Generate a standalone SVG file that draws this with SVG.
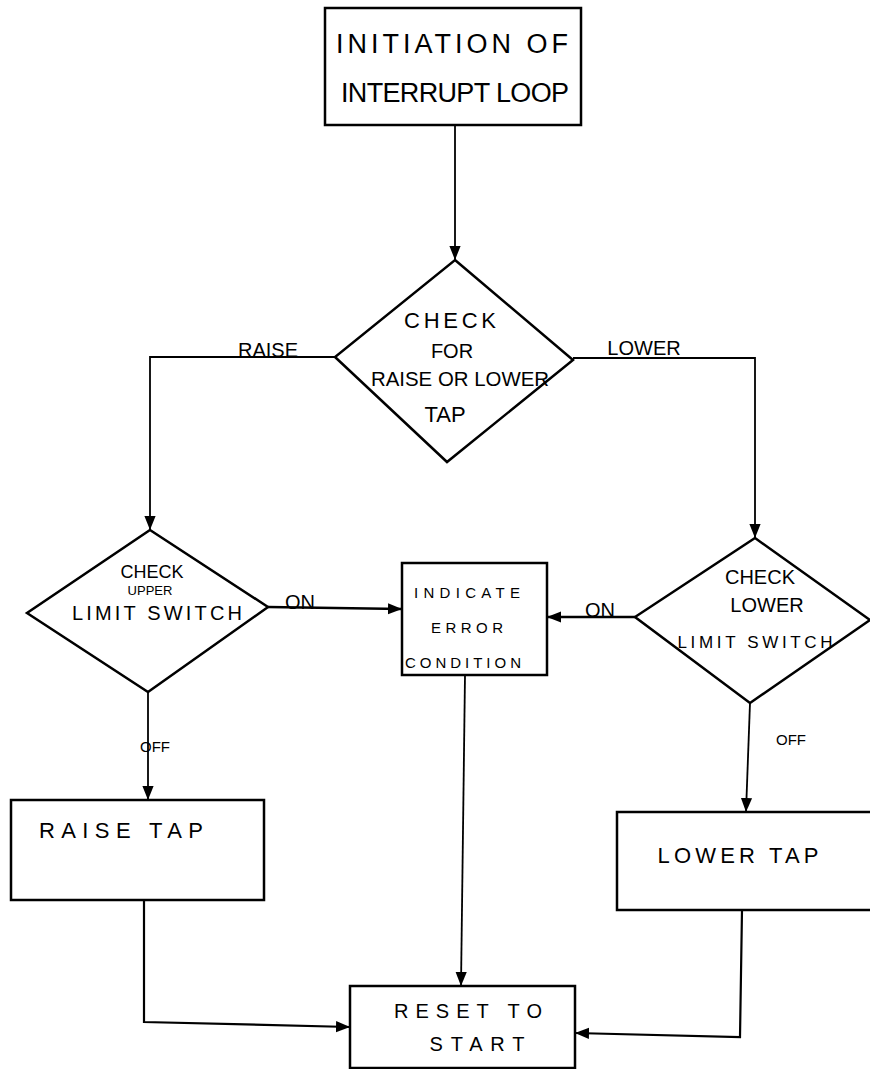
<svg xmlns="http://www.w3.org/2000/svg" width="870" height="1069" viewBox="0 0 870 1069">
<style>
.n{fill:#fff;stroke:#000;stroke-width:2.5}
.c{fill:none;stroke:#000;stroke-width:1.8}
text{font-family:"Liberation Sans",Arial,sans-serif;fill:#000;text-anchor:middle}
.t{font-size:27px}
.m{font-size:20px}
.l{font-size:22px}
.s{font-size:15px}
</style>
<defs>
<marker id="b" viewBox="0 0 10 10" refX="10" refY="5" markerWidth="14" markerHeight="14" markerUnits="userSpaceOnUse" orient="auto"><path d="M0,1 L10,5 L0,9 z" fill="#000"/></marker>
</defs>
<g id="connectors">
<path class="c" d="M455,125 L455,260" marker-end="url(#b)"/>
<path class="c" d="M335,357 L150,357 L150,530" marker-end="url(#b)"/>
<path class="c" d="M573,358 L755,358 L755,538" marker-end="url(#b)"/>
<path class="c" d="M268,607 L402,609" marker-end="url(#b)" style="stroke-width:2.5"/>
<path class="c" d="M635,617 L547,617" marker-end="url(#b)" style="stroke-width:2.5"/>
<path class="c" d="M148,692 L148,800" marker-end="url(#b)"/>
<path class="c" d="M750,703 L746,812" marker-end="url(#b)"/>
<path class="c" d="M465,675 L461,986" marker-end="url(#b)"/>
<path class="c" d="M144,900 L144,1022 L350,1027" marker-end="url(#b)" style="stroke-width:2.2"/>
<path class="c" d="M742,910 L740,1037 L575,1033" marker-end="url(#b)" style="stroke-width:2.2"/>
<text class="m" x="268" y="357">RAISE</text>
<text class="m" x="644" y="355">LOWER</text>
<text class="m" x="300" y="609">ON</text>
<text class="m" x="600" y="617">ON</text>
<text class="s" x="155" y="752">OFF</text>
<text class="s" x="791" y="745">OFF</text>
</g>
<g id="n1">
<rect class="n" x="325" y="8" width="256" height="117"/>
<text class="t" x="452" y="53" textLength="232">INITIATION OF</text>
<text class="t" x="455" y="102" textLength="228">INTERRUPT LOOP</text>
</g>
<g id="n2">
<path class="n" d="M455,260 L573,360 L447,462 L335,357 z"/>
<text class="l" x="450" y="328" textLength="92">CHECK</text>
<text class="m" x="452" y="358">FOR</text>
<text class="m" x="460" y="386" textLength="178" lengthAdjust="spacingAndGlyphs">RAISE OR LOWER</text>
<text class="l" x="445" y="422">TAP</text>
</g>
<g id="n3">
<path class="n" d="M150,530 L268,607 L148,692 L27,613 z"/>
<text class="m" x="152" y="578" style="font-size:18px">CHECK</text>
<text class="s" x="150" y="595" style="font-size:13px">UPPER</text>
<text class="m" x="157" y="620" textLength="170">LIMIT SWITCH</text>
</g>
<g id="n4">
<rect class="n" x="402" y="563" width="145" height="112"/>
<text class="s" x="467" y="598" textLength="106">INDICATE</text>
<text class="s" x="467" y="633" textLength="72">ERROR</text>
<text class="s" x="463" y="668" textLength="116">CONDITION</text>
</g>
<g id="n5">
<path class="n" d="M755,538 L870,620 L750,703 L635,617 z"/>
<text class="m" x="760" y="584">CHECK</text>
<text class="m" x="767" y="612">LOWER</text>
<text class="m" x="755" y="648" textLength="155" style="font-size:17px">LIMIT SWITCH</text>
</g>
<g id="n6">
<rect class="n" x="11" y="800" width="253" height="100"/>
<text class="l" x="121" y="838" textLength="164">RAISE TAP</text>
</g>
<g id="n7">
<rect class="n" x="617" y="812" width="260" height="98"/>
<text class="l" x="738" y="863" textLength="161">LOWER TAP</text>
</g>
<g id="n8">
<rect class="n" x="350" y="986" width="225" height="82"/>
<text class="m" x="468" y="1018" textLength="148">RESET TO</text>
<text class="m" x="477" y="1051" textLength="95">START</text>
</g>
</svg>
